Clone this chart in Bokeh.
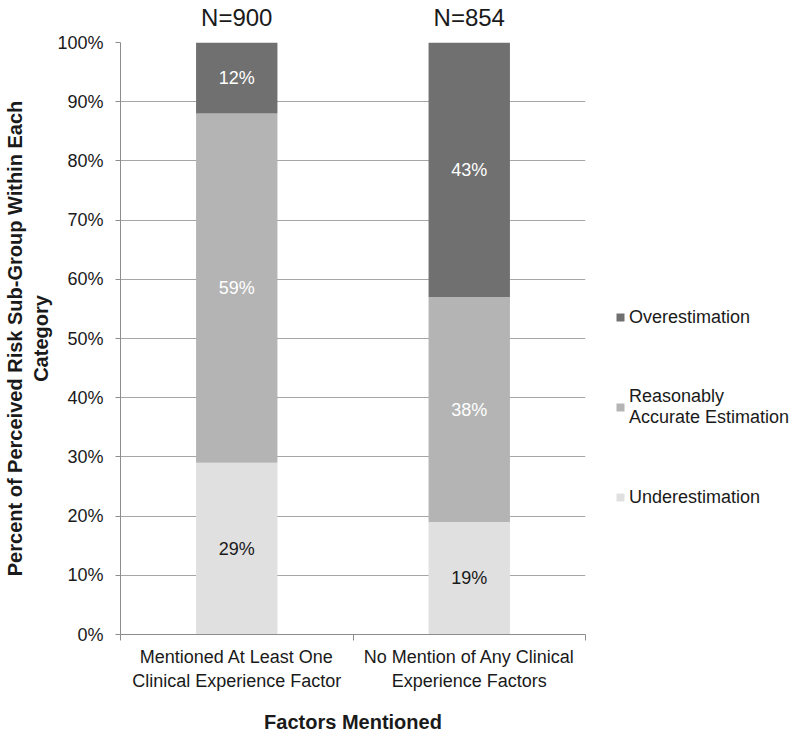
from bokeh.plotting import figure
from bokeh.models import (Range1d, FixedTicker, NumeralTickFormatter, Title,
                          Legend, LegendItem, ColumnDataSource, LinearAxis)
from bokeh.core.properties import value
from bokeh.embed import file_html
from bokeh.resources import INLINE

# ---- data ----
categories = ["Mentioned At Least One\nClinical Experience Factor",
              "No Mention of Any Clinical\nExperience Factors"]
n_labels = ["N=900", "N=854"]
underestimation = [29, 19]
reasonable = [59, 38]
overestimation = [12, 43]
series_names = ["Underestimation", "Reasonably\nAccurate Estimation", "Overestimation"]
series_colors = ["#e0e0e0", "#b4b4b4", "#707070"]
label_colors = ["#1a1a1a", "#ffffff", "#ffffff"]
y_ticks = [0, 10, 20, 30, 40, 50, 60, 70, 80, 90, 100]

FONT = "Liberation Sans"
TXT = "#1a1a1a"
AX = "#8c8c8c"

xs = [i + 0.5 for i in range(len(categories))]
src = ColumnDataSource(dict(
    x=xs,
    under=[v / 100 for v in underestimation],
    reas=[v / 100 for v in reasonable],
    over=[v / 100 for v in overestimation],
))

p = figure(frame_width=465, frame_height=592, output_backend="svg",
           toolbar_location=None, x_range=Range1d(0, len(categories)),
           y_range=Range1d(0, 1),
           min_border_left=120, min_border_top=42, min_border_right=200,
           min_border_bottom=97)
p.outline_line_color = None
p.background_fill_color = "white"
p.border_fill_color = "white"

renderers = p.vbar_stack(["under", "reas", "over"], x="x", width=0.35,
                         source=src, color=series_colors, line_color=None)

# segment labels
stack = [underestimation, reasonable, overestimation]
for k, (vals, col) in enumerate(zip(stack, label_colors)):
    base = [sum(s[i] for s in stack[:k]) for i in range(len(xs))]
    mids = [(b + v / 2) / 100 for b, v in zip(base, vals)]
    texts = ["%d%%" % v for v in vals]
    p.text(x=xs, y=mids, text=texts, text_align="center", text_baseline="middle",
           text_font=value(FONT), text_font_size="18px", text_color=col)

# y axis
p.yaxis.ticker = FixedTicker(ticks=[t / 100 for t in y_ticks])
p.yaxis.formatter = NumeralTickFormatter(format="0%")
p.yaxis.major_label_text_font = FONT
p.yaxis.major_label_text_font_size = "18px"
p.yaxis.major_label_text_color = TXT
p.yaxis.major_label_standoff = 12
p.yaxis.axis_line_color = AX
p.yaxis.major_tick_line_color = AX
p.yaxis.major_tick_in = 0
p.yaxis.major_tick_out = 5
p.yaxis.minor_tick_line_color = None

# x axis
p.xaxis.ticker = FixedTicker(ticks=xs, minor_ticks=list(range(len(categories) + 1)))
p.xaxis.major_label_overrides = {x: c for x, c in zip(xs, categories)}
p.xaxis.major_label_text_font = FONT
p.xaxis.major_label_text_font_size = "18px"
p.xaxis.major_label_text_color = TXT
p.xaxis.major_label_standoff = 6
p.xaxis.axis_line_color = AX
p.xaxis.major_tick_line_color = None
p.xaxis.minor_tick_line_color = AX
p.xaxis.minor_tick_in = 0
p.xaxis.minor_tick_out = 6
p.xaxis.axis_label = "Factors Mentioned"
p.xaxis.axis_label_text_font = FONT
p.xaxis.axis_label_text_font_size = "20px"
p.xaxis.axis_label_text_font_style = "bold"
p.xaxis.axis_label_text_color = TXT
p.xaxis.axis_label_standoff = 17

p.xgrid.grid_line_color = None
p.ygrid.grid_line_color = "#a6a6a6"
p.ygrid.ticker = FixedTicker(ticks=[t / 100 for t in y_ticks if t > 0])

# N labels as a top axis
top = LinearAxis(ticker=FixedTicker(ticks=xs, minor_ticks=[]),
                 major_label_overrides={x: t for x, t in zip(xs, n_labels)},
                 major_label_text_font=FONT, major_label_text_font_size="24px",
                 major_label_text_color=TXT, major_label_standoff=6,
                 axis_line_color=None, major_tick_line_color=None,
                 minor_tick_line_color=None)
p.add_layout(top, "above")

# y axis title (two lines)
p.add_layout(Title(text="Category", align="center", standoff=5,
                   text_font=FONT, text_font_size="20px", text_font_style="bold",
                   text_color=TXT), "left")
p.add_layout(Title(text="Percent of Perceived Risk Sub-Group Within Each",
                   align="center", standoff=0,
                   text_font=FONT, text_font_size="20px", text_font_style="bold",
                   text_color=TXT), "left")

# legend
items = [LegendItem(label=series_names[i], renderers=[renderers[i]]) for i in [2, 1, 0]]
legend = Legend(items=items, location=(30, 126), orientation="vertical",
                glyph_width=10, glyph_height=10, label_standoff=4, spacing=58,
                padding=0, margin=0, border_line_color=None,
                background_fill_alpha=0,
                label_text_font=FONT, label_text_font_size="18px",
                label_text_color=TXT, label_height=22)
p.add_layout(legend, "right")

open("out.html", "w").write(file_html(p, INLINE))
